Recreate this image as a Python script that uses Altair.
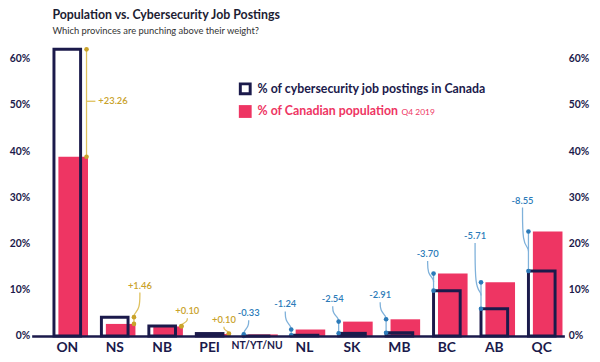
import json
import altair as alt
import pandas as pd

# ---- data ----
categories = ["ON", "NS", "NB", "PEI", "NT/YT/NU", "NL", "SK", "MB", "BC", "AB", "QC"]
job_postings = [62.04, 4.06, 2.15, 0.52, 0.00, 0.15, 0.56, 0.69, 9.80, 5.89, 14.05]
population = [38.78, 2.60, 2.05, 0.42, 0.33, 1.39, 3.10, 3.60, 13.50, 11.60, 22.60]
gap_labels = ["+23.26", "+1.46", "+0.10", "+0.10", "-0.33", "-1.24",
              "-2.54", "-2.91", "-3.70", "-5.71", "-8.55"]
note_height = [50.8, 10.9, 5.3, 3.5, 4.9, 6.8, 7.9, 8.8, 17.7, 21.6, 29.3]
legend_labels = ["% of cybersecurity job postings in Canada", "% of Canadian population"]
legend_note = "Q4 2019"
y_ticks = [0, 10, 20, 30, 40, 50, 60]

# ---- styling ----
NAVY = "#1b1a4b"
RED = "#ee3563"
GOLD = "#c9a22a"
GOLD_LINE = "#dfc15e"
BLUE = "#2c7bb9"
BLUE_LINE = "#7fb1da"
FONT = "Lato"

W, H = 540, 295
X_DOMAIN = [-0.74, 10.487]
Y_DOMAIN = [0, 63]
PX = W / (X_DOMAIN[1] - X_DOMAIN[0])
PY = H / (Y_DOMAIN[1] - Y_DOMAIN[0])


def ux(p):
    return p / PX


def uy(p):
    return p / PY


n = len(categories)
idx = list(range(n))
bars = pd.DataFrame({"cat": categories, "i": idx, "post": job_postings,
                     "pop": population})
bars["zero"] = 0.0
bars["ox"] = bars["i"] - ux(13)
bars["ox2"] = bars["i"] + ux(14)
bars["rx"] = bars["i"] - ux(8.5)
bars["rx2"] = bars["i"] + ux(21.5)

dots, links, leads, notes, inline, ticks = [], [], [], [], [], []
for i in idx:
    post, pop = job_postings[i], population[i]
    up = post >= pop
    lo, hi = min(post, pop), max(post, pop)
    xd = i + ux(20 if up else -13)
    ct = GOLD if up else BLUE
    cl = GOLD_LINE if up else BLUE_LINE
    for v in (lo, hi):
        dots.append(dict(x=xd, y=v, c=ct))
    links.append(dict(x=xd, y=lo, y2=hi, c=cl))
    ny = note_height[i]
    if lo < ny < hi:
        ticks.append(dict(x=xd, x2=xd + ux(9), y=ny, c=cl))
        inline.append(dict(x=xd + ux(12), y=ny, t=gap_labels[i], c=ct))
        continue
    if hi < 1:
        shift = -5 if up else 5
    else:
        shift = 6 if up else -6
    xl = xd + ux(shift)
    notes.append(dict(x=xl, y=ny, t=gap_labels[i], c=ct))
    top = ny - uy(7)
    join = (lo + hi) / 2 if (not up and hi - lo > 3) else hi
    bend = min(9, (top - join) * PY * 0.6)
    pts = [(xl, top), (xl, join + uy(bend)), (xd, join + uy(bend / 3)), (xd, join)]
    for k, (px_, py_) in enumerate(pts):
        leads.append(dict(cat=categories[i], k=k, x=px_, y=py_, c=cl))

xs = alt.Scale(domain=X_DOMAIN, nice=False, zero=False)
ys = alt.Scale(domain=Y_DOMAIN, nice=False, zero=False)

xaxis = alt.Axis(
    values=idx,
    labelExpr=f"{json.dumps(categories)}[datum.value]",
    title=None, grid=False, ticks=False,
    domainColor=NAVY, domainWidth=2.5,
    labelColor=NAVY, labelFont=FONT, labelFontWeight="bold",
    labelFontSize={"condition": {"test": "datum.value == 4", "value": 10.5}, "value": 14},
    labelPadding=5, labelFlush=False, labelOverlap=False, zindex=1,
)


def yaxis(orient, pad):
    return alt.Axis(
        orient=orient, values=y_ticks, labelExpr="datum.value + '%'",
        title=None, grid=False, ticks=False, domain=False,
        labelColor=NAVY, labelFont=FONT, labelFontWeight="bold",
        labelFontSize=10.5, labelPadding=pad,
    )


X = lambda f: alt.X(f, scale=xs, axis=xaxis)
Ynone = lambda f: alt.Y(f, scale=ys, axis=None)

red = alt.Chart(bars).mark_rect(color=RED).encode(
    x=X("rx:Q"), x2="rx2:Q",
    y=alt.Y("pop:Q", scale=ys, axis=yaxis("left", 2)), y2="zero:Q",
)
outline = alt.Chart(bars).mark_rect(filled=False, stroke=NAVY, strokeWidth=3).encode(
    x=X("ox:Q"), x2="ox2:Q",
    y=alt.Y("post:Q", scale=ys, axis=yaxis("right", 4)), y2="zero:Q",
)
link_layer = alt.Chart(pd.DataFrame(links)).mark_rule(strokeWidth=1.3).encode(
    x=X("x:Q"), y=Ynone("y:Q"), y2="y2:Q", color=alt.Color("c:N", scale=None),
)
lead_layer = alt.Chart(pd.DataFrame(leads)).mark_line(strokeWidth=1.3, interpolate="basis").encode(
    x=X("x:Q"), y=Ynone("y:Q"), detail="cat:N", order="k:Q",
    color=alt.Color("c:N", scale=None),
)
tick_layer = alt.Chart(pd.DataFrame(ticks)).mark_rule(strokeWidth=1.3).encode(
    x=X("x:Q"), x2="x2:Q", y=Ynone("y:Q"), color=alt.Color("c:N", scale=None),
)
dot_layer = alt.Chart(pd.DataFrame(dots)).mark_circle(size=22, opacity=1).encode(
    x=X("x:Q"), y=Ynone("y:Q"), color=alt.Color("c:N", scale=None),
)
note_layer = alt.Chart(pd.DataFrame(notes)).mark_text(
    font=FONT, fontSize=9.5, fontWeight=600, align="center", baseline="middle"
).encode(x=X("x:Q"), y=Ynone("y:Q"), text="t:N", color=alt.Color("c:N", scale=None))
inline_layer = alt.Chart(pd.DataFrame(inline)).mark_text(
    font=FONT, fontSize=9.5, fontWeight=600, align="left", baseline="middle"
).encode(x=X("x:Q"), y=Ynone("y:Q"), text="t:N", color=alt.Color("c:N", scale=None))

leg = pd.DataFrame({"t": legend_labels})
leg_box1 = alt.Chart(leg.iloc[[0]]).mark_rect(filled=False, stroke=NAVY, strokeWidth=3).encode(
    x=alt.value(211.5), x2=alt.value(221.5), y=alt.value(39.5), y2=alt.value(49.5))
leg_box2 = alt.Chart(leg.iloc[[1]]).mark_rect(color=RED).encode(
    x=alt.value(210), x2=alt.value(223), y=alt.value(61), y2=alt.value(74))
leg_t1 = alt.Chart(leg.iloc[[0]]).mark_text(
    font=FONT, fontSize=12.5, fontWeight="bold", color=NAVY, align="left", baseline="middle"
).encode(x=alt.value(229), y=alt.value(45), text="t:N")
leg_t2 = alt.Chart(leg.iloc[[1]]).mark_text(
    font=FONT, fontSize=12.5, fontWeight="bold", color=RED, align="left", baseline="middle"
).encode(x=alt.value(229), y=alt.value(67.5), text="t:N")
leg_t3 = alt.Chart(pd.DataFrame({"t": [legend_note]})).mark_text(
    font=FONT, fontSize=8.5, fontWeight="normal", color=RED, align="left", baseline="alphabetic"
).encode(x=alt.value(375), y=alt.value(71.5), text="t:N")

chart = alt.layer(
    red, outline, link_layer, lead_layer, tick_layer, dot_layer, note_layer, inline_layer,
    leg_box1, leg_box2, leg_t1, leg_t2, leg_t3,
).resolve_axis(y="independent").properties(
    width=W, height=H,
    title=alt.Title(
        "Population vs. Cybersecurity Job Postings",
        subtitle="Which provinces are punching above their weight?",
        anchor="start", frame="group", dx=21, offset=10,
        font=FONT, fontSize=12.5, fontWeight="bold", color="#1d1d33",
        subtitleFont=FONT, subtitleFontSize=9.5, subtitleColor="#333333",
        subtitlePadding=4,
    ),
    autosize=alt.AutoSizeParams(type="none"),
    padding={"left": 24, "top": 35, "right": 28, "bottom": 24},
    background="white",
).configure_view(stroke=None)

chart.save("out.html", embed_options={"renderer": "svg", "actions": False})
